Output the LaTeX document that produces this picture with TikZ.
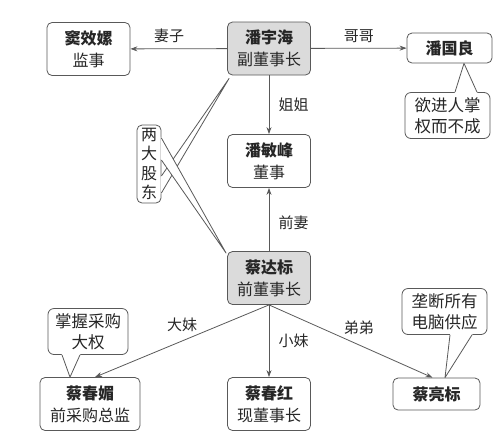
\documentclass[tikz,border=0pt]{standalone}
\usepackage{fontspec}
\setmainfont{Noto Sans CJK SC}
\usepackage{xcolor}
\usetikzlibrary{positioning,calc,arrows.meta}

\definecolor{linegray}{gray}{0.35}
\definecolor{boxgray}{gray}{0.86}
\definecolor{inkgray}{gray}{0.15}

% pointer of a speech bubble: base point, base point, tip
\newcommand\notetip[3]{%
  \fill[white] ($#1!-1.5pt!#3$) -- #3 -- ($#2!-1.5pt!#3$) -- cycle;
  \draw[draw=linegray, line width=0.8pt, line join=round] #1 -- #3 -- #2;}

\begin{document}
\begin{tikzpicture}[x=1pt, y=-1pt,
    person/.style={rectangle, draw=linegray, line width=0.8pt, rounded corners=5pt, fill=white,
        minimum width=83pt, minimum height=53pt, inner sep=0pt, align=center, text=inkgray,
        font=\fontsize{16}{22}\selectfont},
    chief/.style={person, fill=boxgray},
    note/.style={rectangle, draw=linegray, line width=0.8pt, rounded corners=6pt, fill=white,
        minimum width=85pt, minimum height=46pt, inner sep=0pt, align=center, text=inkgray,
        font=\fontsize{16.5}{21}\selectfont},
    rel/.style={text=inkgray, font=\fontsize{15}{15}\selectfont},
    arrow/.style={-{Stealth[length=7pt, width=5pt]}, draw=linegray, line width=0.8pt}
]
    \useasboundingbox (0,0) rectangle (500,432);

    % people
    \node[chief] (panyh) at (269,48.5) {\textbf{潘宇海}\\副董事长};
    \node[person] (dou) at (88.5,49) {\textbf{窦效嫘}\\监事};
    \node[person, minimum width=85pt, minimum height=30pt] (panguo) at (449.5,48) {\textbf{潘国良}};
    \node[person] (panmin) at (269,161) {\textbf{潘敏峰}\\董事};
    \node[chief] (caida) at (269,278) {\textbf{蔡达标}\\前董事长};
    \node[person, minimum width=100pt] (caichm) at (90,404) {\textbf{蔡春媚}\\前采购总监};
    \node[person] (caichh) at (269,404) {\textbf{蔡春红}\\现董事长};
    \node[person, minimum width=87pt, minimum height=32pt] (cailiang) at (436.5,394) {\textbf{蔡亮标}};

    % speech bubbles
    \node[note] (guonote) at (447.5,115.5) {欲进人掌\\权而不成};
    \node[note, minimum width=80pt] (chmnote) at (88,331.5) {掌握采购\\大权};
    \node[note] (liangnote) at (444.5,311.5) {垄断所有\\电脑供应};
    \node[note, rounded corners=5pt, minimum width=24pt, minimum height=78pt,
        font=\fontsize{16}{19.5}\selectfont] (holders) at (149,164) {两\\大\\股\\东};

    \notetip{([xshift=7.5pt]guonote.north)}{([xshift=29.5pt]guonote.north)}{([xshift=14.5pt]panguo.south)}
    \notetip{([xshift=-26pt]chmnote.south)}{([xshift=-8pt]chmnote.south)}{([xshift=-20pt]caichm.north)}
    \notetip{([xshift=5.5pt]liangnote.south)}{([xshift=27.5pt]liangnote.south)}{([xshift=8.5pt]cailiang.north)}
    \notetip{([yshift=-29pt]holders.east)}{([yshift=-12pt]holders.east)}{([xshift=2pt,yshift=-3pt]panyh.south west)}
    \notetip{([yshift=4pt]holders.east)}{([yshift=26pt]holders.east)}{([xshift=-1pt,yshift=-2pt]caida.north west)}

    % relations
    \draw[arrow] (panyh) -- (dou) node[rel, pos=0.6, above=2pt] {妻子};
    \draw[arrow] (panyh) -- (panguo) node[rel, midway, above=2pt] {哥哥};
    \draw[arrow] (panyh) -- (panmin) node[rel, midway, right=6pt] {姐姐};
    \draw[arrow] (caida) -- (panmin) node[rel, pos=0.45, right=6pt] {前妻};
    \draw[arrow] (caida.south) -- ([xshift=5pt]caichm.north) node[rel, pos=0.5, above=6pt] {大妹};
    \draw[arrow] (caida) -- (caichh) node[rel, midway, right=6pt] {小妹};
    \draw[arrow] (caida.south) -- ([xshift=-4pt]cailiang.north) node[rel, pos=0.55, above=6pt] {弟弟};
\end{tikzpicture}
\end{document}
